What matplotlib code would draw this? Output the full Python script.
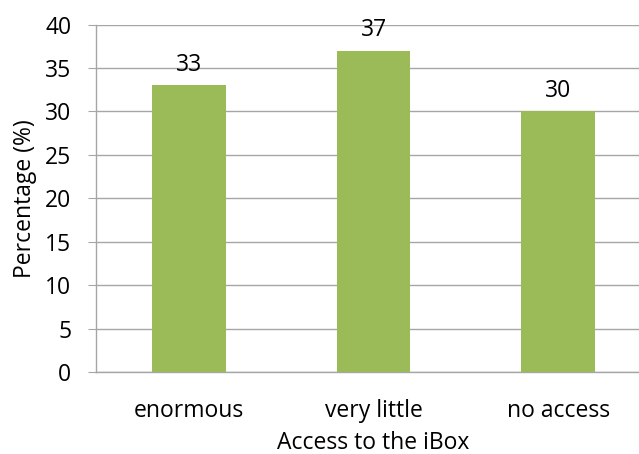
import matplotlib
matplotlib.use("Agg")
import matplotlib.pyplot as plt

categories = ["enormous", "very little", "no access"]
values = [33, 37, 30]
yticks = [0, 5, 10, 15, 20, 25, 30, 35, 40]

plt.rcParams["font.family"] = ["Open Sans", "DejaVu Sans"]

W, H = 639, 454
FS = 16.5
fig = plt.figure(figsize=(W / 100, H / 100), dpi=100)
# plot area runs slightly past the right edge of the canvas
ax = fig.add_axes([96.5 / W, 82 / H, 554 / W, 347.5 / H])

grid_color = "#A6A6A6"
bar_color = "#9BBB59"

x = range(len(categories))
ax.bar(x, values, width=0.4, color=bar_color, zorder=3)
for xi, v in zip(x, values):
    ax.annotate(f"{v}", (xi, v), xytext=(0, 10.5), textcoords="offset points",
                ha="center", va="baseline", fontsize=FS, color="black")

ax.set_xlim(-0.5, 2.5)
ax.set_ylim(0, 40)
ax.set_yticks(yticks)
ax.set_xticks(list(x))
ax.set_xticklabels(categories)
ax.yaxis.grid(True, color=grid_color, linewidth=1, zorder=0)
ax.set_axisbelow(True)

for side in ["top", "right"]:
    ax.spines[side].set_visible(False)
for side in ["left", "bottom"]:
    ax.spines[side].set_color(grid_color)
    ax.spines[side].set_linewidth(1)

ax.tick_params(axis="y", length=6, width=0.8, color=grid_color, pad=12,
               labelsize=FS, labelcolor="black")
ax.tick_params(axis="x", length=0, pad=19.5, labelsize=FS, labelcolor="black")

ax.set_ylabel("Percentage (%)", fontsize=FS, labelpad=6)
ax.set_xlabel("Access to the iBox", fontsize=FS, labelpad=6)

fig.savefig("out.png", dpi=100)
